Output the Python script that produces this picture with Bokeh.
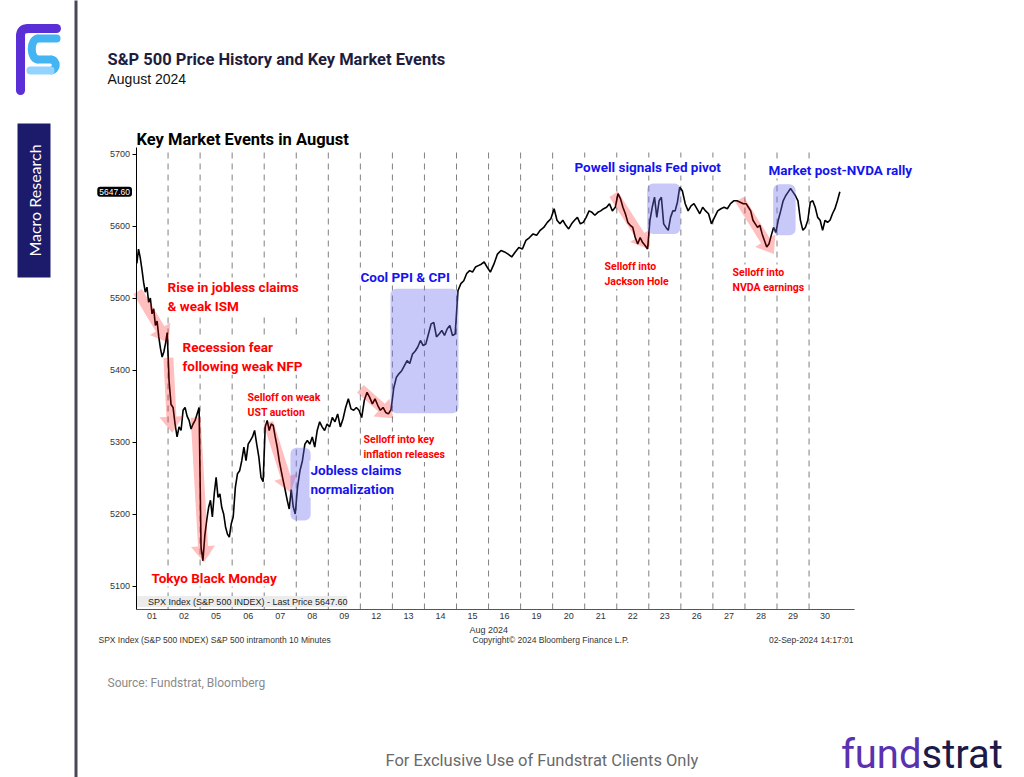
import math
from bokeh.plotting import figure
from bokeh.models import (Range1d, LinearAxis, FixedTicker, Label, BoxAnnotation,
                          Legend, LegendItem)
from bokeh.embed import file_html
from bokeh.resources import INLINE

# ---------------- data ----------------
DAY_LABELS = ["01", "02", "05", "06", "07", "08", "09", "12", "13", "14", "15",
              "16", "19", "20", "21", "22", "23", "26", "27", "28", "29", "30"]

AUG01 = [5548, 5568, 5556, 5540, 5522, 5508, 5515, 5494, 5500, 5478, 5485, 5462,
         5468, 5446, 5430, 5418, 5425, 5437, 5452]
AUG02 = [5385, 5352, 5348, 5325, 5307, 5321, 5316, 5344, 5348, 5336, 5330, 5318,
         5325, 5330, 5339, 5348]
AUG05 = [5154, 5135, 5170, 5191, 5209, 5219, 5196, 5228, 5251, 5223, 5228, 5209,
         5200, 5182, 5172, 5168, 5186]
AUG06 = [5196, 5237, 5256, 5260, 5274, 5293, 5274, 5297, 5302, 5307, 5316, 5297,
         5279, 5251, 5245]
AUG07 = [5321, 5330, 5316, 5325, 5323, 5307, 5293, 5274, 5260, 5246, 5233, 5219,
         5207, 5234, 5210, 5200]
AUG08 = [5237, 5260, 5274, 5297, 5302, 5297, 5307, 5293, 5316, 5328, 5321, 5316, 5325]
AUG09 = [5321, 5334, 5328, 5339, 5321, 5332, 5348, 5360, 5346, 5344, 5348, 5344]
AUG12 = [5334, 5358, 5369, 5362, 5353, 5360, 5351, 5344, 5348, 5341, 5339, 5345]
AUG13 = [5375, 5390, 5395, 5399, 5406, 5413, 5409, 5422, 5426, 5432, 5441, 5434]
AUG14 = [5436, 5450, 5464, 5466, 5446, 5450, 5455, 5448, 5457, 5462, 5448, 5450]
AUG15 = [5510, 5520, 5524, 5534, 5538, 5536, 5543, 5545, 5547, 5550, 5543]
AUG16 = [5536, 5547, 5561, 5566, 5564, 5561, 5557, 5564, 5570]
AUG19 = [5568, 5580, 5584, 5589, 5587, 5594, 5598, 5605, 5610]
AUG20 = [5624, 5608, 5603, 5608, 5601, 5596, 5603, 5608, 5612, 5603, 5605]
AUG21 = [5612, 5621, 5619, 5615, 5619, 5621, 5624, 5626, 5631, 5621, 5626]
AUG22 = [5645, 5638, 5626, 5617, 5605, 5601, 5598, 5584, 5575, 5584, 5577, 5573, 5568]
AUG23 = [5608, 5626, 5640, 5612, 5635, 5640, 5603, 5598, 5594, 5612, 5621, 5621,
         5633, 5654]
AUG26 = [5649, 5631, 5621, 5628, 5631, 5624, 5617, 5626, 5621, 5617, 5603]
AUG27 = [5612, 5621, 5624, 5626, 5624, 5631, 5635, 5635, 5633, 5631]
AUG28 = [5631, 5626, 5621, 5608, 5603, 5598, 5601, 5589, 5580, 5571, 5575, 5587,
         5598, 5591]
AUG29 = [5608, 5621, 5635, 5642, 5647, 5652, 5647, 5642, 5635, 5608, 5594, 5598, 5608]
AUG30 = [5633, 5635, 5626, 5612, 5608, 5594, 5608, 5605, 5608, 5617, 5624, 5635, 5647.6]

SESSIONS = [AUG01, AUG02, AUG05, AUG06, AUG07, AUG08, AUG09, AUG12, AUG13, AUG14,
            AUG15, AUG16, AUG19, AUG20, AUG21, AUG22, AUG23, AUG26, AUG27, AUG28,
            AUG29, AUG30]
LAST_PRICE = 5647.60
Y_TICKS = [5100, 5200, 5300, 5400, 5500, 5600, 5700]

# selloff arrows (session position, price) start -> tip
SELL_X0 = [0.55, 1.51, 2.36, 4.63, 7.50, 15.40, 19.33]
SELL_P0 = [5509, 5417, 5334, 5327, 5374, 5644, 5637]
SELL_X1 = [1.51, 1.63, 2.62, 5.32, 8.53, 16.50, 20.40]
SELL_P1 = [5438, 5313, 5133, 5230, 5333, 5568, 5561]

# rally boxes (session position / price)
BOX_X0 = [5.32, 8.44, 16.45, 20.38]
BOX_X1 = [5.95, 10.56, 17.49, 21.08]
BOX_P0 = [5191, 5340, 5589, 5587]
BOX_P1 = [5292, 5513, 5659, 5658]

# ---------------- layout (page pixels) ----------------
W, H = 1024, 777
CH_LEFT, CH_RIGHT, CH_TOP, CH_BOTTOM = 135.5, 854.0, 147.0, 609.0
DAY_PX = 32.05
PX_PER_PT = 0.72
REF_PRICE, REF_Y = 5100.0, 585.5

SANS = "Roboto"
BBG = "Liberation Sans"


def x_of(fx):
    return 0.5 + (fx - CH_LEFT) / DAY_PX


def p_of(fy):
    return REF_PRICE + (REF_Y - fy) / PX_PER_PT


p = figure(width=W, height=H, x_range=Range1d(0, W), y_range=Range1d(H, 0),
           x_axis_type=None, y_axis_type=None, toolbar_location=None,
           output_backend="svg", min_border=0, outline_line_color=None,
           background_fill_color="white", border_fill_color="white")
p.extra_x_ranges = {"days": Range1d(x_of(0), x_of(W))}
p.extra_y_ranges = {"price": Range1d(p_of(H), p_of(0))}
XR, YR = "days", "price"
P_LO, P_HI = p_of(CH_BOTTOM), p_of(CH_TOP)
X_LO, X_HI = x_of(CH_LEFT), x_of(CH_RIGHT)

# ---------------- slide decoration ----------------
p.quad(left=74, right=77, top=-10, bottom=H + 10, fill_color="#4a4658", line_color=None)
p.quad(left=17, right=50, top=123, bottom=277, fill_color="#1c1a6a", line_color=None)
p.add_layout(Label(x=34, y=200, text="Macro Research", angle=math.pi / 2,
                   text_align="center", text_baseline="middle", text_color="white",
                   text_font="Lato", text_font_size="16px"))
# logo
PURPLE, BLUE, LBLUE = "#5b2fd6", "#45b4f2", "#92d4ff"
p.segment(x0=[20, 28], y0=[90, 28], x1=[20, 56], y1=[36, 28], line_color=PURPLE,
          line_width=9, line_cap="round")
p.bezier(x0=[20], y0=[36], x1=[28], y1=[28], cx0=[20], cy0=[30], cx1=[22], cy1=[28],
         line_color=PURPLE, line_width=9, line_cap="round")
p.segment(x0=[56, 38], y0=[38, 59], x1=[38, 50], y1=[38, 59], line_color=BLUE,
          line_width=8, line_cap="round")
p.bezier(x0=[38], y0=[38], x1=[38], y1=[59], cx0=[29], cy0=[38], cx1=[29], cy1=[59],
         line_color=BLUE, line_width=8)
p.bezier(x0=[50], y0=[59], x1=[50], y1=[70], cx0=[57], cy0=[59], cx1=[57], cy1=[70],
         line_color=BLUE, line_width=8)
p.segment(x0=[50], y0=[70], x1=[30], y1=[70], line_color=LBLUE, line_width=8,
          line_cap="round")


def label(x, y, text, size, color, font, bold=False, align="left",
          baseline="alphabetic", bg=None, **kw):
    lab = Label(x=x, y=y, text=text, text_font=font, text_font_size=f"{size}px",
                text_color=color, text_align=align, text_baseline=baseline,
                text_font_style="bold" if bold else "normal", **kw)
    if bg is not None:
        lab.background_fill_color = bg
        lab.padding = 1
    p.add_layout(lab)
    return lab


label(107, 59, "S&P 500 Price History and Key Market Events", 16.5, "#1f1d3d",
      SANS, bold=True)
label(107, 78, "August 2024", 14, "#111111", BBG)
label(107, 682, "Source: Fundstrat, Bloomberg", 12, "#8a8a8a", SANS)
label(385, 760, "For Exclusive Use of Fundstrat Clients Only", 16.5, "#6a6a6a", SANS)
label(921, 754, "fund", 40, "#5a32b0", SANS, align="right")
label(921, 754, "strat", 40, "#1b1a48", SANS)

# ---------------- chart ----------------
label(136, 139, "Key Market Events in August", 16.5, "black", SANS, bold=True)

bx = [k + 1.5 for k in range(len(DAY_LABELS) - 1)]
p.segment(x0=bx, x1=bx, y0=[P_LO] * len(bx), y1=[P_HI] * len(bx),
          x_range_name=XR, y_range_name=YR, line_color="#808080", line_width=1,
          line_dash="6 5")

xs, ys = [], []
for k, sess in enumerate(SESSIONS):
    n = len(sess)
    for j, v in enumerate(sess):
        xs.append(k + 0.5 + (j + 0.5) / n)
        ys.append(v)
p.line(xs, ys, x_range_name=XR, y_range_name=YR, line_color="black", line_width=1.6)

# selloff arrows (built in screen space, mapped back to data)
SHAFT, HEAD_W, HEAD_L = 5.0, 12.0, 16.0
ax, ay = [], []
for x0, p0, x1, p1 in zip(SELL_X0, SELL_P0, SELL_X1, SELL_P1):
    dx, dy = (x1 - x0) * DAY_PX, -(p1 - p0) * PX_PER_PT
    L = math.hypot(dx, dy)
    ux, uy = dx / L, dy / L
    nx, ny = -uy, ux
    bxp, byp = dx - ux * HEAD_L, dy - uy * HEAD_L
    pts = [(nx * SHAFT, ny * SHAFT), (bxp + nx * SHAFT, byp + ny * SHAFT),
           (bxp + nx * HEAD_W, byp + ny * HEAD_W), (dx, dy),
           (bxp - nx * HEAD_W, byp - ny * HEAD_W), (bxp - nx * SHAFT, byp - ny * SHAFT),
           (-nx * SHAFT, -ny * SHAFT)]
    ax.append([x0 + X / DAY_PX for X, Y in pts])
    ay.append([p0 - Y / PX_PER_PT for X, Y in pts])
p.patches(ax, ay, x_range_name=XR, y_range_name=YR, fill_color="#ff0000",
          fill_alpha=0.25, line_alpha=0)

for l, r, b, t in zip(BOX_X0, BOX_X1, BOX_P0, BOX_P1):
    p.add_layout(BoxAnnotation(left=l, right=r, bottom=b, top=t, x_range_name=XR,
                               y_range_name=YR, fill_color="#6e6ef0", fill_alpha=0.38,
                               line_alpha=0, border_radius=6))

# axes
yaxis = LinearAxis(y_range_name=YR, fixed_location=CH_LEFT, bounds=(P_LO, P_HI),
                   ticker=FixedTicker(ticks=Y_TICKS, minor_ticks=[]))
yaxis.axis_line_color = "black"
yaxis.major_tick_line_color = "black"
yaxis.major_tick_out = 4
yaxis.major_tick_in = 0
yaxis.minor_tick_line_color = None
yaxis.major_label_text_font = BBG
yaxis.major_label_text_font_size = "9px"
yaxis.major_label_text_color = "#333333"
yaxis.major_label_standoff = 2
p.add_layout(yaxis, "left")

centers = [k + 1 for k in range(len(DAY_LABELS))]
xaxis = LinearAxis(x_range_name=XR, fixed_location=CH_BOTTOM, bounds=(X_LO, X_HI),
                   ticker=FixedTicker(ticks=centers, minor_ticks=[]))
xaxis.major_label_overrides = {c: lab for c, lab in zip(centers, DAY_LABELS)}
xaxis.axis_line_color = "#555555"
xaxis.major_tick_line_color = None
xaxis.major_tick_out = 0
xaxis.major_tick_in = 0
xaxis.minor_tick_line_color = None
xaxis.major_label_text_font = BBG
xaxis.major_label_text_font_size = "9px"
xaxis.major_label_text_color = "#333333"
xaxis.major_label_standoff = 3
p.add_layout(xaxis, "below")

label(469, 629, "Aug 2024", 9, "#333333", BBG)
label(98, 639, "SPX Index (S&P 500 INDEX) S&P 500 intramonth  10 Minutes", 8.5,
      "#333333", BBG)
label(472, 639, "Copyright\u00a9 2024 Bloomberg Finance L.P.", 8.5, "#333333", BBG)
label(853, 639, "02-Sep-2024 14:17:01", 8.5, "#333333", BBG, align="right")

tag = Label(x=CH_LEFT - 4, y=LAST_PRICE, y_range_name=YR, text=f"{LAST_PRICE:.2f}",
            text_align="right", text_baseline="middle", text_color="white",
            text_font=BBG, text_font_size="8.5px", background_fill_color="black",
            padding=2, border_radius=3)
p.add_layout(tag)

# legend
sq = p.scatter(x=[], y=[], marker="square", size=8, color="black",
               x_range_name=XR, y_range_name=YR)
legend = Legend(items=[LegendItem(label=f"SPX Index (S&P 500 INDEX) - Last Price {LAST_PRICE:.2f}",
                                  renderers=[sq])],
                location=(137, H - 607), orientation="horizontal",
                label_text_font=BBG, label_text_font_size="9px",
                label_text_color="#222222", glyph_width=8, glyph_height=8,
                label_height=11, label_standoff=3, padding=4, margin=0, spacing=0,
                background_fill_color="#ececec", background_fill_alpha=1,
                border_line_color=None)
p.add_layout(legend)

# annotation texts
RED, BLU = "#ff0000", "#1414f0"
NOTES = [
    (166, 277, "Rise in jobless claims\n& weak ISM", 13.5, RED),
    (181, 337, "Recession fear\nfollowing weak NFP", 13.5, RED),
    (246, 389, "Selloff on weak\nUST auction", 10.5, RED),
    (150, 568, "Tokyo Black Monday", 13.5, RED),
    (309, 460, "Jobless claims\nnormalization", 13.5, BLU),
    (362, 431, "Selloff into key\ninflation releases", 10.5, RED),
    (359, 267, "Cool PPI & CPI", 13.5, BLU),
    (573, 157, "Powell signals Fed pivot", 13.5, BLU),
    (603, 258, "Selloff into\nJackson Hole", 10.5, RED),
    (767, 160, "Market post-NVDA rally", 13.5, BLU),
    (731, 264, "Selloff into\nNVDA earnings", 10.5, RED),
]
for x, y, t, s, c in NOTES:
    label(x, y, t, s, c, SANS, bold=True, baseline="top", bg="white")

open("out.html", "w").write(file_html(p, INLINE))
